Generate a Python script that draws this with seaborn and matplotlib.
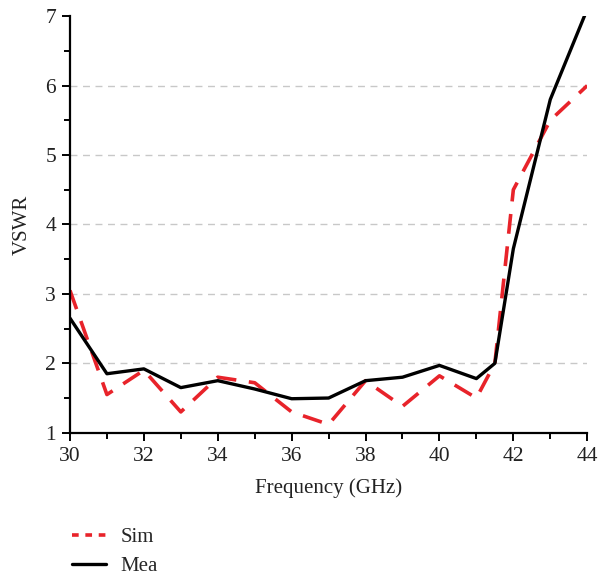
import numpy as np
import pandas as pd
import matplotlib
matplotlib.use('Agg')
import matplotlib.pyplot as plt
import seaborn as sns

freq = [30, 31, 32, 33, 34, 35, 36, 37, 38, 39, 40, 41, 41.5, 42, 43, 44]
sim = [3.05, 1.55, 1.9, 1.3, 1.8, 1.72, 1.3, 1.12, 1.75, 1.38, 1.82, 1.5, 2.0, 4.5, 5.5, 6.0]
mea = [2.65, 1.85, 1.92, 1.65, 1.75, 1.63, 1.49, 1.5, 1.75, 1.8, 1.97, 1.78, 2.0, 3.65, 5.8, 7.1]

df = pd.DataFrame({'Frequency': freq, 'Sim': sim, 'Mea': mea})

sns.set_style('ticks')
plt.rcParams['font.family'] = ['Liberation Serif', 'DejaVu Serif']

fig = plt.figure(figsize=(5.98, 5.77), dpi=100)
ax = fig.add_axes([0.117, 0.25, 0.865, 0.722])

sns.lineplot(data=df, x='Frequency', y='Sim', ax=ax, color='#e8232a', lw=2.6,
             dashes=False, label='Sim')
ax.lines[-1].set_dashes([5.5, 3.5])
sns.lineplot(data=df, x='Frequency', y='Mea', ax=ax, color='black', lw=2.4, label='Mea')

ax.set_xlim(30, 44)
ax.set_ylim(1, 7)
ax.set_xticks(range(30, 45, 2))
ax.set_xticks(range(31, 44, 2), minor=True)
ax.set_yticks(range(1, 8))
ax.set_yticks(np.arange(1.5, 7, 1), minor=True)
for yv in range(2, 7):
    ax.axhline(yv, color='#c8c8c8', lw=1, ls=(0, (5, 4)), zorder=0)

for s in ['top', 'right']:
    ax.spines[s].set_visible(False)
for s in ['left', 'bottom']:
    ax.spines[s].set_linewidth(1.6)
    ax.spines[s].set_color('black')
ax.tick_params(which='major', direction='out', length=6, width=1.4, labelsize=15.5,
               colors='black', labelcolor='#222222', pad=4)
ax.tick_params(which='minor', direction='out', length=4, width=1.4, colors='black')

ax.set_xlabel('Frequency (GHz)', fontsize=15, color='#222222', labelpad=9)
ax.set_ylabel('VSWR', fontsize=15, color='#222222', labelpad=10)

handles, labels = ax.get_legend_handles_labels()
ax.get_legend().remove()
leg = fig.legend(handles, labels, loc='upper left', bbox_to_anchor=(0.107, 0.1),
                 frameon=False, fontsize=15, handlelength=1.6, labelspacing=0.45,
                 handletextpad=0.7, borderaxespad=0)
leg.get_lines()[0].set_dashes([1.85, 1.85])

fig.savefig('out.png', dpi=100)
